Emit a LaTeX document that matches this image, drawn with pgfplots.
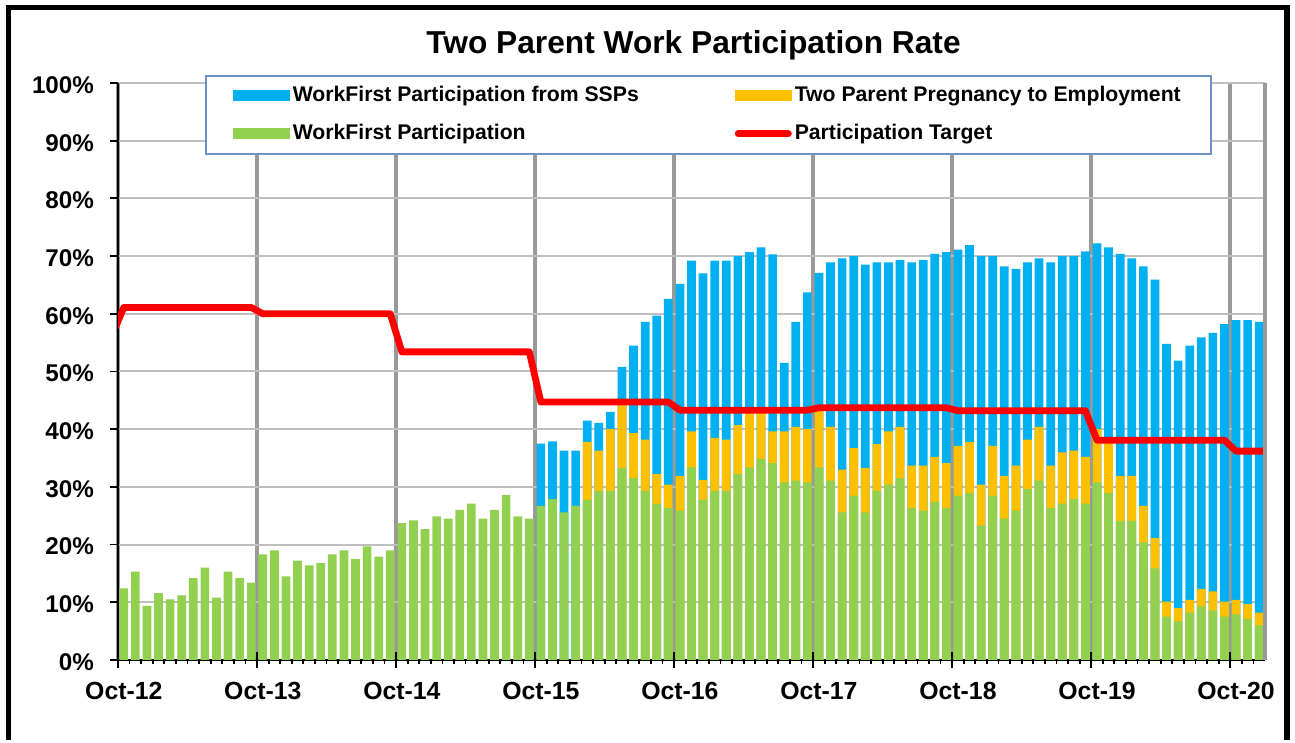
\documentclass[border=0pt]{standalone}
\usepackage{pgfplots}
\pgfplotsset{compat=1.18}
\usepackage{pgfplotstable}
\usepackage{fontspec}
\setmainfont{Liberation Sans}
\definecolor{cblue}{HTML}{00B0F0}
\definecolor{cyel}{HTML}{FFC000}
\definecolor{cgreen}{HTML}{92D050}
\definecolor{cred}{HTML}{FF0000}
\definecolor{hgrid}{HTML}{BFBFBF}
\definecolor{vgrid}{HTML}{999999}
\definecolor{legframe}{HTML}{6F8FC8}
\pgfplotsset{layers/mylayers/.define layer set={axis background,axis grid,main,axis ticks,axis lines,axis tick labels,axis descriptions,axis foreground}{}}

\pgfplotstableread{
x G Y B
0.5 12.4 nan nan
1.5 15.3 nan nan
2.5 9.4 nan nan
3.5 11.6 nan nan
4.5 10.5 nan nan
5.5 11.2 nan nan
6.5 14.2 nan nan
7.5 16.0 nan nan
8.5 10.8 nan nan
9.5 15.3 nan nan
10.5 14.2 nan nan
11.5 13.4 nan nan
12.5 18.3 nan nan
13.5 19.0 nan nan
14.5 14.5 nan nan
15.5 17.2 nan nan
16.5 16.4 nan nan
17.5 16.8 nan nan
18.5 18.3 nan nan
19.5 19.0 nan nan
20.5 17.5 nan nan
21.5 19.7 nan nan
22.5 17.9 nan nan
23.5 19.0 nan nan
24.5 23.7 nan nan
25.5 24.2 nan nan
26.5 22.7 nan nan
27.5 24.9 nan nan
28.5 24.5 nan nan
29.5 26.0 nan nan
30.5 27.1 nan nan
31.5 24.5 nan nan
32.5 26.0 nan nan
33.5 28.6 nan nan
34.5 24.9 nan nan
35.5 24.5 nan nan
36.5 26.7 nan 37.5
37.5 27.9 nan 37.9
38.5 25.6 nan 36.3
39.5 26.7 nan 36.3
40.5 27.8 37.8 41.5
41.5 29.3 36.3 41.1
42.5 29.3 40.0 43.0
43.5 33.3 44.5 50.8
44.5 31.5 39.3 54.5
45.5 29.3 38.2 58.6
46.5 27.1 32.2 59.7
47.5 26.3 30.4 62.6
48.5 25.9 31.9 65.2
49.5 33.4 39.6 69.2
50.5 27.8 31.2 67.0
51.5 29.3 38.5 69.2
52.5 29.3 38.2 69.2
53.5 32.2 40.7 70.0
54.5 33.4 43.0 70.7
55.5 34.8 43.0 71.5
56.5 34.1 39.6 70.3
57.5 30.8 39.6 51.5
58.5 31.1 40.4 58.6
59.5 30.8 40.0 63.7
60.5 33.4 43.5 67.1
61.5 31.1 40.4 68.9
62.5 25.6 33.0 69.6
63.5 28.5 36.7 70.0
64.5 25.6 33.3 68.5
65.5 29.3 37.4 68.9
66.5 30.4 39.6 68.9
67.5 31.5 40.4 69.3
68.5 26.3 33.7 68.9
69.5 25.9 33.7 69.3
70.5 27.4 35.2 70.4
71.5 26.3 34.1 70.7
72.5 28.5 37.1 71.1
73.5 28.9 37.8 71.9
74.5 23.3 30.4 70.0
75.5 28.5 37.1 70.0
76.5 24.5 31.9 68.2
77.5 25.9 33.7 67.8
78.5 29.6 38.2 68.9
79.5 31.1 40.4 69.6
80.5 26.3 33.7 68.9
81.5 27.1 36.0 70.0
82.5 27.9 36.3 70.0
83.5 27.1 35.2 70.8
84.5 30.8 40.0 72.2
85.5 28.9 38.0 71.5
86.5 24.1 31.9 70.4
87.5 24.1 31.9 69.6
88.5 20.4 26.7 68.2
89.5 15.9 21.1 65.9
90.5 7.5 10.1 54.8
91.5 6.7 9.0 51.9
92.5 8.2 10.4 54.5
93.5 9.3 12.3 55.9
94.5 8.6 11.9 56.7
95.5 7.5 10.1 58.2
96.5 7.9 10.4 58.9
97.5 7.1 9.7 58.9
98.5 6.0 8.2 58.6
}\datatable

\pgfplotstableread{
x T
-0.5 56.3
0.5 61.1
11.5 61.1
12.5 60.0
23.5 60.0
24.5 53.4
35.5 53.4
36.5 44.7
47.5 44.7
48.5 43.3
59.5 43.3
60.5 43.7
71.5 43.7
72.5 43.2
83.5 43.2
84.5 38.1
95.5 38.1
96.5 36.2
99.5 36.2
}\targettable

\begin{document}
\begin{tikzpicture}
\fill[white] (0,0) rectangle (647.5pt,370pt);
\begin{axis}[
  set layers=mylayers,
  at={(59pt,40pt)}, anchor=south west,
  scale only axis, width=573.5pt, height=288.5pt,
  xmin=0, xmax=99, ymin=0, ymax=100,
  axis x line*=bottom, axis y line*=left,
  axis line style={black, line width=1.1pt, -},
  xtick={0,12,...,96},
  xticklabels={Oct-12,Oct-13,Oct-14,Oct-15,Oct-16,Oct-17,Oct-18,Oct-19,Oct-20},
  minor xtick={1,...,98},
  extra x ticks={12,24,...,96},
  extra x tick labels={},
  extra x tick style={tick align=inside, major tick length=4pt, grid=none},
  ytick={0,10,...,100},
  yticklabels={0\%,10\%,20\%,30\%,40\%,50\%,60\%,70\%,80\%,90\%,100\%},
  tick align=outside,
  major tick length=4pt, minor tick length=2pt,
  tick style={black, line width=0.9pt},
  xmajorgrids, ymajorgrids,
  x grid style={vgrid, line width=1.8pt},
  y grid style={hgrid, line width=1pt},
  xticklabel style={font=\bfseries\fontsize{12.4}{14}\selectfont, anchor=base, xshift=2.9pt, yshift=-16pt},
  yticklabel style={font=\bfseries\fontsize{12.1}{14}\selectfont, xshift=-4.5pt, yshift=-1pt},
  legend columns=2,
  legend cell align=left,
  legend style={
    at={(axis description cs:0.0759,1.0139)}, anchor=north west,
    draw=legframe, line width=0.8pt, fill=white,
    font=\bfseries\fontsize{10.6}{12}\selectfont,
    inner xsep=13.5pt, inner ysep=4.5pt,
    row sep=8pt,
    nodes={inner ysep=0.5pt, inner xsep=1.5pt, text height=7.8pt, text depth=2.2pt},
    /tikz/every even column/.append style={column sep=46.5pt},
  },
  after end axis/.code={\draw[vgrid, line width=1.8pt] (rel axis cs:1,0) -- (rel axis cs:1,1);},
]
\addplot[ybar, bar shift=0pt, bar width=0.75, fill=cblue, draw=none,
  legend image code/.code={\fill[cblue] (0pt,-2.75pt) rectangle (28.5pt,2.75pt);}]
  table[x=x, y=B]{\datatable};
\addlegendentry{WorkFirst Participation from SSPs}
\addplot[ybar, bar shift=0pt, bar width=0.75, fill=cyel, draw=none,
  legend image code/.code={\fill[cyel] (0pt,-2.75pt) rectangle (28.5pt,2.75pt);}]
  table[x=x, y=Y]{\datatable};
\addlegendentry{Two Parent Pregnancy to Employment}
\addplot[ybar, bar shift=0pt, bar width=0.75, fill=cgreen, draw=none,
  legend image code/.code={\fill[cgreen] (0pt,-2.75pt) rectangle (28.5pt,2.75pt);}]
  table[x=x, y=G]{\datatable};
\addlegendentry{WorkFirst Participation}
\addplot[cred, line width=3.4pt, line join=round, mark=none,
  legend image code/.code={\draw[cred, line width=3.5pt, line cap=round] (1.75pt,0pt) -- (26.75pt,0pt);}]
  table[x=x, y=T]{\targettable};
\addlegendentry{Participation Target}
\end{axis}
\node[anchor=base, font=\bfseries\fontsize{15.85}{18}\selectfont] at (346.75pt,343.25pt) {Two Parent Work Participation Rate};
\draw[black, line width=2.6pt] (4.25pt,0pt) -- (4.25pt,366.1pt) -- (643.5pt,366.1pt) -- (643.5pt,0pt);
\end{tikzpicture}
\end{document}
